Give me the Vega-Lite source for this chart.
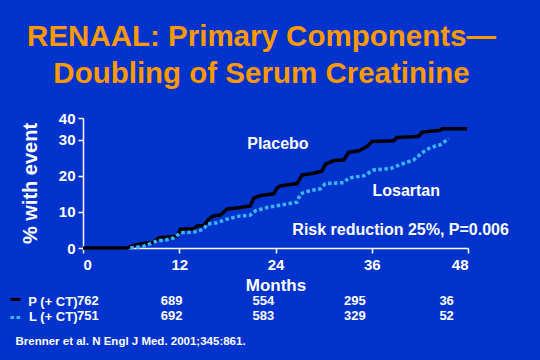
{
  "$schema": "https://vega.github.io/schema/vega-lite/v6.json",
  "autosize": {"type": "none"},
  "width": 385,
  "height": 130,
  "padding": {"left": 83, "top": 118, "right": 72, "bottom": 112},
  "background": "#0033cc",
  "title": {
    "text": ["RENAAL: Primary Components—", "Doubling of Serum Creatinine"],
    "fontSize": 29.5,
    "fontWeight": "bold",
    "font": "Liberation Sans",
    "color": "#ff9900",
    "lineHeight": 37,
    "anchor": "middle",
    "frame": "group",
    "dx": -14,
    "offset": 22
  },
  "config": {
    "view": {"stroke": null},
    "axis": {
      "grid": false,
      "labelColor": "white",
      "titleColor": "white",
      "domainColor": "white",
      "tickColor": "white",
      "labelFont": "Liberation Sans",
      "titleFont": "Liberation Sans",
      "labelFontWeight": "bold",
      "titleFontWeight": "bold",
      "labelOverlap": false
    },
    "text": {"font": "Liberation Sans"}
  },
  "resolve": {
    "scale": {"x": "independent", "y": "independent"},
    "axis": {"x": "independent", "y": "independent"}
  },
  "layer": [
    {
      "layer": [
        {
          "data": {
            "values": [
              {"series": "Placebo", "month": 0, "pct": 0},
              {"series": "Placebo", "month": 5.49, "pct": 0},
              {"series": "Placebo", "month": 6.32, "pct": 0.7},
              {"series": "Placebo", "month": 7.15, "pct": 1.1},
              {"series": "Placebo", "month": 8.81, "pct": 1.6},
              {"series": "Placebo", "month": 9.43, "pct": 2.8},
              {"series": "Placebo", "month": 11.72, "pct": 3.3},
              {"series": "Placebo", "month": 12.14, "pct": 5.2},
              {"series": "Placebo", "month": 13.8, "pct": 5.3},
              {"series": "Placebo", "month": 14.21, "pct": 6.1},
              {"series": "Placebo", "month": 15.05, "pct": 6.2},
              {"series": "Placebo", "month": 15.67, "pct": 8.0},
              {"series": "Placebo", "month": 16.29, "pct": 8.9},
              {"series": "Placebo", "month": 17.12, "pct": 9.1},
              {"series": "Placebo", "month": 17.96, "pct": 10.8},
              {"series": "Placebo", "month": 19.62, "pct": 11.2},
              {"series": "Placebo", "month": 20.86, "pct": 11.7},
              {"series": "Placebo", "month": 21.28, "pct": 13.8},
              {"series": "Placebo", "month": 22.11, "pct": 14.5},
              {"series": "Placebo", "month": 22.94, "pct": 14.8},
              {"series": "Placebo", "month": 23.77, "pct": 15.0},
              {"series": "Placebo", "month": 24.19, "pct": 16.6},
              {"series": "Placebo", "month": 24.6, "pct": 17.2},
              {"series": "Placebo", "month": 25.85, "pct": 17.6},
              {"series": "Placebo", "month": 26.68, "pct": 17.8},
              {"series": "Placebo", "month": 27.31, "pct": 20.2},
              {"series": "Placebo", "month": 28.76, "pct": 20.7},
              {"series": "Placebo", "month": 29.8, "pct": 21.3},
              {"series": "Placebo", "month": 30.22, "pct": 23.2},
              {"series": "Placebo", "month": 31.26, "pct": 24.2},
              {"series": "Placebo", "month": 32.5, "pct": 24.4},
              {"series": "Placebo", "month": 33.13, "pct": 26.5},
              {"series": "Placebo", "month": 34.37, "pct": 26.9},
              {"series": "Placebo", "month": 35.41, "pct": 28.1},
              {"series": "Placebo", "month": 36.03, "pct": 29.5},
              {"series": "Placebo", "month": 38.74, "pct": 29.7},
              {"series": "Placebo", "month": 39.15, "pct": 30.6},
              {"series": "Placebo", "month": 41.85, "pct": 30.9},
              {"series": "Placebo", "month": 42.27, "pct": 32.1},
              {"series": "Placebo", "month": 44.56, "pct": 32.6},
              {"series": "Placebo", "month": 44.76, "pct": 33.0},
              {"series": "Placebo", "month": 47.88, "pct": 33.0},
              {"series": "Losartan", "month": 5.9, "pct": 0},
              {"series": "Losartan", "month": 7.56, "pct": 0.5},
              {"series": "Losartan", "month": 9.23, "pct": 1.9},
              {"series": "Losartan", "month": 10.47, "pct": 2.3},
              {"series": "Losartan", "month": 11.3, "pct": 2.8},
              {"series": "Losartan", "month": 12.14, "pct": 4.2},
              {"series": "Losartan", "month": 13.8, "pct": 4.4},
              {"series": "Losartan", "month": 15.05, "pct": 5.2},
              {"series": "Losartan", "month": 15.46, "pct": 6.6},
              {"series": "Losartan", "month": 16.71, "pct": 7.0},
              {"series": "Losartan", "month": 17.96, "pct": 8.0},
              {"series": "Losartan", "month": 19.62, "pct": 8.9},
              {"series": "Losartan", "month": 20.86, "pct": 9.1},
              {"series": "Losartan", "month": 21.49, "pct": 10.3},
              {"series": "Losartan", "month": 22.94, "pct": 11.2},
              {"series": "Losartan", "month": 24.19, "pct": 11.7},
              {"series": "Losartan", "month": 25.44, "pct": 12.2},
              {"series": "Losartan", "month": 26.68, "pct": 12.7},
              {"series": "Losartan", "month": 27.1, "pct": 15.0},
              {"series": "Losartan", "month": 28.35, "pct": 15.9},
              {"series": "Losartan", "month": 29.59, "pct": 16.4},
              {"series": "Losartan", "month": 30.22, "pct": 17.8},
              {"series": "Losartan", "month": 32.5, "pct": 18.1},
              {"series": "Losartan", "month": 33.13, "pct": 19.4},
              {"series": "Losartan", "month": 35.0, "pct": 20.0},
              {"series": "Losartan", "month": 36.24, "pct": 21.6},
              {"series": "Losartan", "month": 38.32, "pct": 22.0},
              {"series": "Losartan", "month": 39.57, "pct": 23.1},
              {"series": "Losartan", "month": 41.23, "pct": 24.4},
              {"series": "Losartan", "month": 42.48, "pct": 26.7},
              {"series": "Losartan", "month": 43.31, "pct": 27.8},
              {"series": "Losartan", "month": 44.56, "pct": 28.6},
              {"series": "Losartan", "month": 45.59, "pct": 30.3}
            ]
          },
          "mark": {"type": "line", "strokeWidth": 3.5, "strokeCap": "butt"},
          "encoding": {
            "x": {
              "field": "month", "type": "quantitative",
              "scale": {"domain": [0, 48], "nice": false},
              "axis": {
                "orient": "bottom", "values": [0, 12, 24, 36, 48], "tickCount": 10, "title": "Months",
                "labelFontSize": 15, "titleFontSize": 17, "tickSize": 5, "labelPadding": 4,
                "titlePadding": 5, "domainWidth": 1.5, "tickWidth": 1.5
              }
            },
            "y": {
              "field": "pct", "type": "quantitative",
              "scale": {"domain": [0, 36], "nice": false},
              "axis": {
                "orient": "left", "values": [0, 10, 20, 30, 36], "tickCount": 10,
                "labelExpr": "datum.value == 36 ? '40' : datum.label",
                "title": "% with event", "labelFontSize": 15, "titleFontSize": 20,
                "tickSize": 5, "labelPadding": 3, "titlePadding": 18,
                "domainWidth": 1.5, "tickWidth": 1.5
              }
            },
            "color": {
              "field": "series", "type": "nominal",
              "scale": {"domain": ["Placebo", "Losartan"], "range": ["#000000", "#3db4f2"]},
              "legend": {
                "orient": "none", "legendX": -74, "legendY": 175, "title": null,
                "symbolType": "stroke", "symbolSize": 100, "symbolStrokeWidth": 3,
                "labelExpr": "''", "rowPadding": 5, "padding": 0
              }
            },
            "strokeDash": {
              "field": "series", "type": "nominal",
              "scale": {"domain": ["Placebo", "Losartan"], "range": [[1, 0], [3.5, 2.5]]},
              "legend": {
                "orient": "none", "legendX": -74, "legendY": 175, "title": null,
                "symbolType": "stroke", "symbolSize": 100, "symbolStrokeWidth": 3,
                "labelExpr": "''", "rowPadding": 5, "padding": 0
              }
            }
          }
        },
        {
          "data": {
            "values": [
              {"label": "Placebo", "month": 24.3, "pct": 28.9},
              {"label": "Losartan", "month": 40.3, "pct": 15.9},
              {"label": "Risk reduction 25%, P=0.006", "month": 39.6, "pct": 5.1}
            ]
          },
          "mark": {"type": "text", "fontSize": 16, "fontWeight": "bold", "color": "white", "baseline": "middle", "align": "center"},
          "encoding": {
            "x": {"field": "month", "type": "quantitative"},
            "y": {"field": "pct", "type": "quantitative"},
            "text": {"field": "label"}
          }
        }
      ]
    },
    {
      "data": {
        "values": [
          {"group": "P (+ CT)", "month": 0, "n": 762},
          {"group": "P (+ CT)", "month": 12, "n": 689},
          {"group": "P (+ CT)", "month": 24, "n": 554},
          {"group": "P (+ CT)", "month": 36, "n": 295},
          {"group": "P (+ CT)", "month": 48, "n": 36},
          {"group": "L (+ CT)", "month": 0, "n": 751},
          {"group": "L (+ CT)", "month": 12, "n": 692},
          {"group": "L (+ CT)", "month": 24, "n": 583},
          {"group": "L (+ CT)", "month": 36, "n": 329},
          {"group": "L (+ CT)", "month": 48, "n": 52}
        ]
      },
      "encoding": {
        "x": {
          "field": "month", "type": "quantitative",
          "scale": {"domain": [0.4, 50.8], "nice": false, "zero": false},
          "axis": {
            "orient": "bottom", "domain": false, "ticks": false, "labels": false,
            "title": "Brenner et al. N Engl J Med. 2001;345:861.",
            "titleX": -68, "titleY": 93, "titleAlign": "left", "titleAnchor": null,
            "titleBaseline": "middle", "titleFontSize": 11.5
          }
        },
        "y": {
          "field": "group", "type": "nominal",
          "scale": {"type": "point", "domain": ["P (+ CT)", "L (+ CT)"], "range": [183, 198], "padding": 0},
          "axis": {
            "orient": "left", "domain": false, "ticks": false, "title": null,
            "labelPadding": 6, "labelFontSize": 13, "labelBaseline": "middle"
          }
        },
        "text": {"field": "n", "type": "quantitative"}
      },
      "layer": [
        {
          "transform": [{"filter": "datum.month > 0"}],
          "mark": {"type": "text", "fontSize": 13, "fontWeight": "bold", "color": "white", "align": "center", "baseline": "middle"}
        },
        {
          "transform": [{"filter": "datum.month == 0"}],
          "mark": {"type": "text", "fontSize": 13, "fontWeight": "bold", "color": "white", "align": "left", "baseline": "middle", "dx": -3}
        }
      ]
    }
  ]
}
